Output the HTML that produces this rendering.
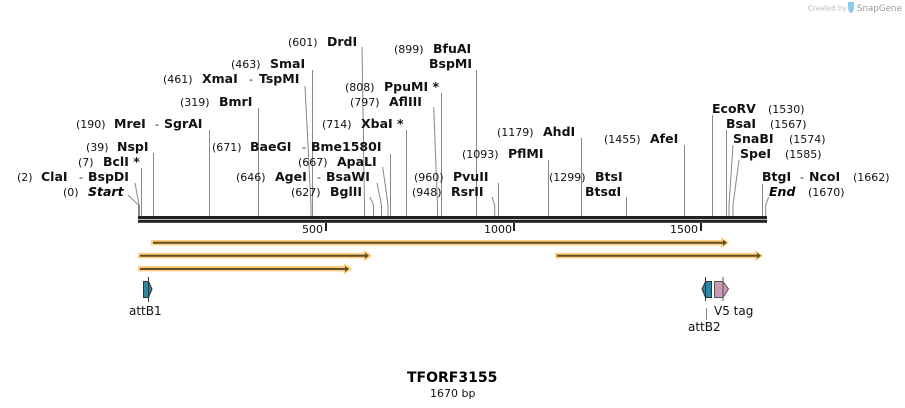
<!DOCTYPE html>
<html><head><meta charset="utf-8"><style>
html,body{margin:0;padding:0;background:#fff}
svg{display:block}
text{font-family:"DejaVu Sans",sans-serif;fill:#111}
.n{font-size:11px}
.b{font-size:12.5px;font-weight:bold;fill:#000}
.i{font-size:12.5px;font-weight:bold;font-style:italic;fill:#000}
.l{stroke:#888;stroke-width:1;fill:none}
.f{font-size:12px}
</style></head><body>
<svg width="905" height="408" viewBox="0 0 905 408" xmlns="http://www.w3.org/2000/svg">
<text x="808" y="10.500" style="font-size:7px;fill:#b8b8b8">Created by</text>
<path d="M848 2h6v4c0 4-1 7-3 7-2 0-3-3-3-7z" fill="#8ccbee"/>
<text x="857" y="11" style="font-size:8.700px;fill:#999">SnapGene</text>

<g class="l">
<path d="M128 195L138.500 205M135 183L139 205"/>
<path d="M141.500 168V216M153.500 153V216M209.500 130V216M258.500 108V216"/>
<path d="M362 47L364.500 205V216M312.500 70V216M305 86L311 205V216"/>
<path d="M390.500 154V216M382.700 167L388 205V216M377 183L381.500 205V216M370 197L373.500 205V216"/>
<path d="M406.500 130V216M433.700 107L437.500 205V216M441.500 93V216M476.500 70V216"/>
<path d="M492 197L494.700 205V216M498.500 183V216M548.500 160V216M581.500 138V216"/>
<path d="M626.500 197V216M684.500 145V216M712.500 115V216M726.500 130V216"/>
<path d="M733 145L729 205V216M739 160L733 205V216M762.500 184V216M768.700 197L765.700 205V216"/>
</g>
<rect x="138" y="205" width="2" height="11" fill="#888"/>

<rect x="138" y="216" width="629" height="3.300" fill="#222"/>
<rect x="138" y="220" width="629" height="2.800" fill="#222"/>
<rect x="325" y="223" width="2" height="8" fill="#222"/>
<rect x="513" y="223" width="2" height="8" fill="#222"/>
<rect x="700" y="223" width="2" height="8" fill="#222"/>
<text class="n" x="302" y="233">500</text>
<text class="n" x="484" y="233">1000</text>
<text class="n" x="670" y="233">1500</text>

<g class="n">
<text x="17" y="181">(2)</text><text x="63" y="196">(0)</text><text x="78" y="166">(7)</text><text x="86" y="151">(39)</text>
<text x="76" y="128">(190)</text><text x="180" y="106">(319)</text><text x="163" y="83">(461)</text><text x="231" y="68">(463)</text>
<text x="288" y="46">(601)</text><text x="212" y="151">(671)</text><text x="236" y="181">(646)</text><text x="298" y="166">(667)</text>
<text x="291" y="196">(627)</text><text x="322" y="128">(714)</text><text x="350" y="106">(797)</text><text x="345" y="91">(808)</text>
<text x="394" y="53">(899)</text><text x="414" y="181">(960)</text><text x="412" y="196">(948)</text><text x="497" y="136">(1179)</text>
<text x="462" y="158">(1093)</text><text x="549" y="181">(1299)</text><text x="604" y="143">(1455)</text><text x="768" y="113">(1530)</text>
<text x="770" y="128">(1567)</text><text x="789" y="143">(1574)</text><text x="785" y="158">(1585)</text><text x="853" y="181">(1662)</text>
<text x="808" y="196">(1670)</text>
<text x="79" y="181">-</text><text x="155" y="128">-</text><text x="249" y="83">-</text><text x="302" y="151">-</text><text x="317" y="181">-</text><text x="800" y="181">-</text>
</g>
<g class="b">
<text x="41" y="181">ClaI</text><text x="88" y="181">BspDI</text>
<text x="103" y="166">BclI *</text><text x="117" y="151">NspI</text>
<text x="114" y="128">MreI</text><text x="164" y="128">SgrAI</text>
<text x="219" y="106">BmrI</text>
<text x="202" y="83">XmaI</text><text x="259" y="83">TspMI</text>
<text x="270" y="68">SmaI</text><text x="327" y="46">DrdI</text>
<text x="250" y="151">BaeGI</text><text x="311" y="151">Bme1580I</text>
<text x="275" y="181">AgeI</text><text x="326" y="181">BsaWI</text>
<text x="337" y="166">ApaLI</text><text x="330" y="196">BglII</text>
<text x="361" y="128">XbaI *</text><text x="389" y="106">AflIII</text>
<text x="384" y="91">PpuMI *</text><text x="433" y="53">BfuAI</text><text x="429" y="68">BspMI</text>
<text x="453" y="181">PvuII</text><text x="451" y="196">RsrII</text>
<text x="543" y="136">AhdI</text><text x="508" y="158">PflMI</text>
<text x="595" y="181">BtsI</text><text x="585" y="196">BtsαI</text>
<text x="650" y="143">AfeI</text><text x="712" y="113">EcoRV</text><text x="726" y="128">BsaI</text>
<text x="733" y="143">SnaBI</text><text x="740" y="158">SpeI</text>
<text x="762" y="181">BtgI</text><text x="809" y="181">NcoI</text>
</g>
<text class="i" x="88" y="196">Start</text>
<text class="i" x="769" y="196">End</text>

<g fill="#ffcc77">
<path d="M151 240h570v-3l8 5.700-8 5.700v-3h-570z"/>
<path d="M138 253h226v-3l8 5.700-8 5.700v-3h-226z"/>
<path d="M138 266h206v-3l8 5.700-8 5.700v-3h-206z"/>
<path d="M555 253h200v-3l8 5.700-8 5.700v-3h-200z"/>
</g>
<g fill="#5f4c2c">
<path d="M153 241.700h570v-2l4 3-4 3v-2h-570z"/>
<path d="M140 254.700h225v-2l4 3-4 3v-2h-225z"/>
<path d="M140 268h205v-2l4 3-4 3v-2h-205z"/>
<path d="M557 254.700h200v-2l4 3-4 3v-2h-200z"/>
</g>

<path d="M143.500 281.500H148.500L152 289L148.500 297.500H143.500Z" fill="#2e86a0" stroke="#333"/>
<path d="M148.500 277V302" stroke="#333" fill="none"/>
<path d="M711.500 281.500H705.500L702 289L705.500 297.500H711.500Z" fill="#2e86a0" stroke="#333"/>
<path d="M705.500 277V301" stroke="#333" fill="none"/>
<path d="M714.500 281.500H723L728.500 289L723 297.500H714.500Z" fill="#cc99b2" stroke="#555"/>
<path d="M723 277V301" stroke="#555" fill="none"/>
<path d="M706.500 308V320" stroke="#888" fill="none"/>

<text class="f" x="129" y="315">attB1</text>
<text class="f" x="714" y="315">V5 tag</text>
<text class="f" x="688" y="331">attB2</text>

<text x="407" y="382" style="font-size:14px;font-weight:bold;fill:#000">TFORF3155</text>
<text class="n" x="430" y="397">1670 bp</text>
</svg>
</body></html>
